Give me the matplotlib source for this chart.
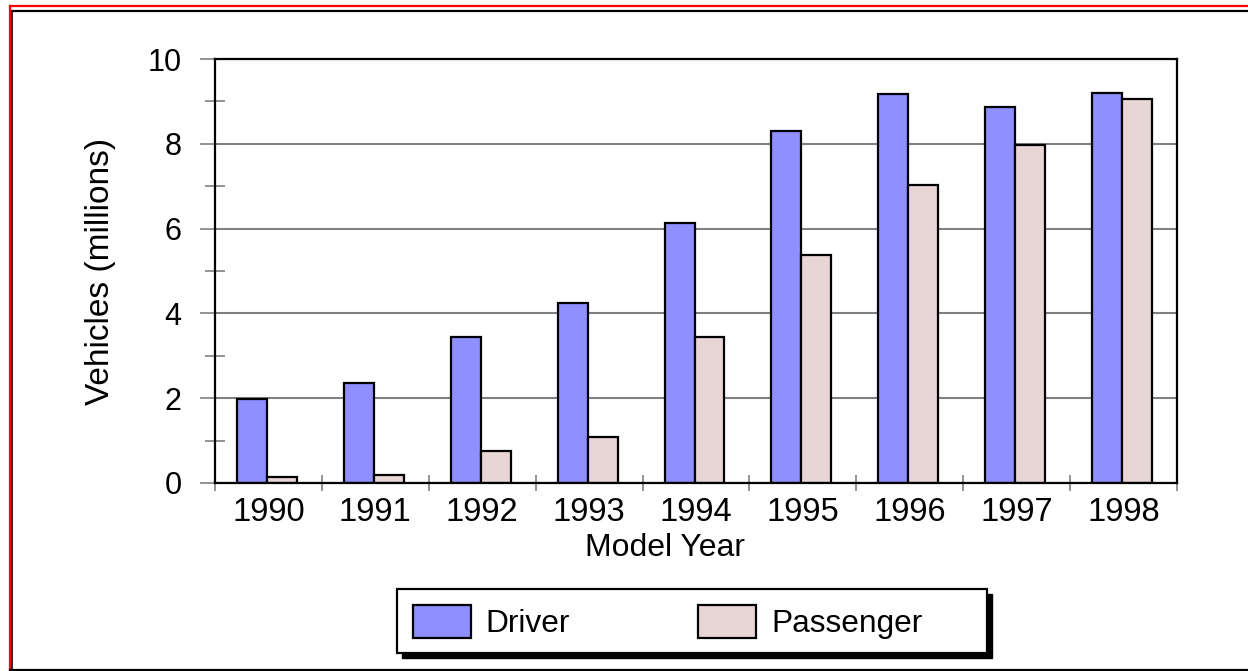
import matplotlib.pyplot as plt
from matplotlib.lines import Line2D
from matplotlib.patches import Rectangle

plt.rcParams['font.family'] = ['Liberation Sans', 'DejaVu Sans']

years = ['1990', '1991', '1992', '1993', '1994', '1995', '1996', '1997', '1998']
driver = [1.97, 2.37, 3.44, 4.25, 6.13, 8.30, 9.17, 8.87, 9.20]
passenger = [0.14, 0.19, 0.76, 1.09, 3.44, 5.38, 7.03, 7.97, 9.06]

W, H = 1248, 671
fig = plt.figure(figsize=(W / 100, H / 100), dpi=100)
ax = fig.add_axes([215 / W, 1 - 483 / H, (1177 - 215) / W, (483 - 59) / H])

n = len(years)
bw = 0.28
centers = [i + 0.486 for i in range(n)]
ax.bar([c - bw / 2 for c in centers], driver, bw, color='#8f8fff',
       edgecolor='black', linewidth=1.6, zorder=3, label='Driver')
ax.bar([c + bw / 2 for c in centers], passenger, bw, color='#e8d5d5',
       edgecolor='black', linewidth=1.6, zorder=3, label='Passenger')

ax.set_xlim(0, n)
ax.set_ylim(0, 10)

# x: separators at category boundaries, labels centred
ax.set_xticks(range(n + 1))
ax.set_xticklabels([])
ax.set_xticks([i + 0.5 for i in range(n)], minor=True)
ax.set_xticklabels(years, minor=True)
ax.tick_params(axis='x', which='major', direction='inout', length=11,
               width=1.2, color='#808080')
ax.tick_params(axis='x', which='minor', length=0, pad=10, labelsize=23.5)

# y: gridlines at even values, crossing ticks at odd ones
ax.set_yticks(range(0, 11, 2))
ax.set_yticks(range(1, 10, 2), minor=True)
ax.tick_params(axis='y', which='major', direction='out', length=11,
               width=1.2, color='#808080', labelsize=22, pad=13)
ax.tick_params(axis='y', which='minor', direction='inout', length=14,
               width=1.2, color='#808080')
ax.grid(axis='y', which='major', color='#808080', linewidth=1.5, zorder=0)
ax.set_axisbelow(True)

for s in ax.spines.values():
    s.set_linewidth(1.6)
    s.set_color('black')
    s.set_zorder(4)

ax.set_xlabel('Model Year', fontsize=23)
ax.xaxis.set_label_coords(0.4678, -0.118)
ax.set_ylabel('Vehicles (millions)', fontsize=24, labelpad=23)

# legend box with a hard drop shadow, drawn by hand because it is wider
# than its entries
bx0, bx1, by0, by1 = 397, 987, 589, 653
fig.add_artist(Rectangle(((bx0 + 5) / W, 1 - (by1 + 5) / H), (bx1 - bx0) / W,
                         (by1 - by0) / H, transform=fig.transFigure,
                         facecolor='black', edgecolor='black', zorder=5))
fig.add_artist(Rectangle((bx0 / W, 1 - by1 / H), (bx1 - bx0) / W,
                         (by1 - by0) / H, transform=fig.transFigure,
                         facecolor='white', edgecolor='black', lw=1.6, zorder=6))
leg = fig.legend(loc='center left', bbox_to_anchor=(413 / W, 1 - 622 / H),
                 ncol=2, fontsize=22.8, handlelength=1.83, handleheight=1.2,
                 handletextpad=0.47, columnspacing=4.04, borderpad=0,
                 borderaxespad=0, frameon=False)
leg.set_zorder(7)

# outer frame of the original picture
fig.add_artist(Line2D([10 / W, 1], [1 - 5.5 / H, 1 - 5.5 / H], color='red', lw=1.6))
fig.add_artist(Line2D([10 / W, 10 / W], [0, 1 - 5.5 / H], color='red', lw=1.6))
fig.add_artist(Line2D([12 / W, 1], [1 - 10.5 / H, 1 - 10.5 / H], color='black', lw=1.6))
fig.add_artist(Line2D([12 / W, 12 / W], [1.5 / H, 1 - 10.5 / H], color='black', lw=1.2))
fig.add_artist(Line2D([10 / W, 1], [1.5 / H, 1.5 / H], color='black', lw=1.6))

fig.savefig('out.png', dpi=100)
